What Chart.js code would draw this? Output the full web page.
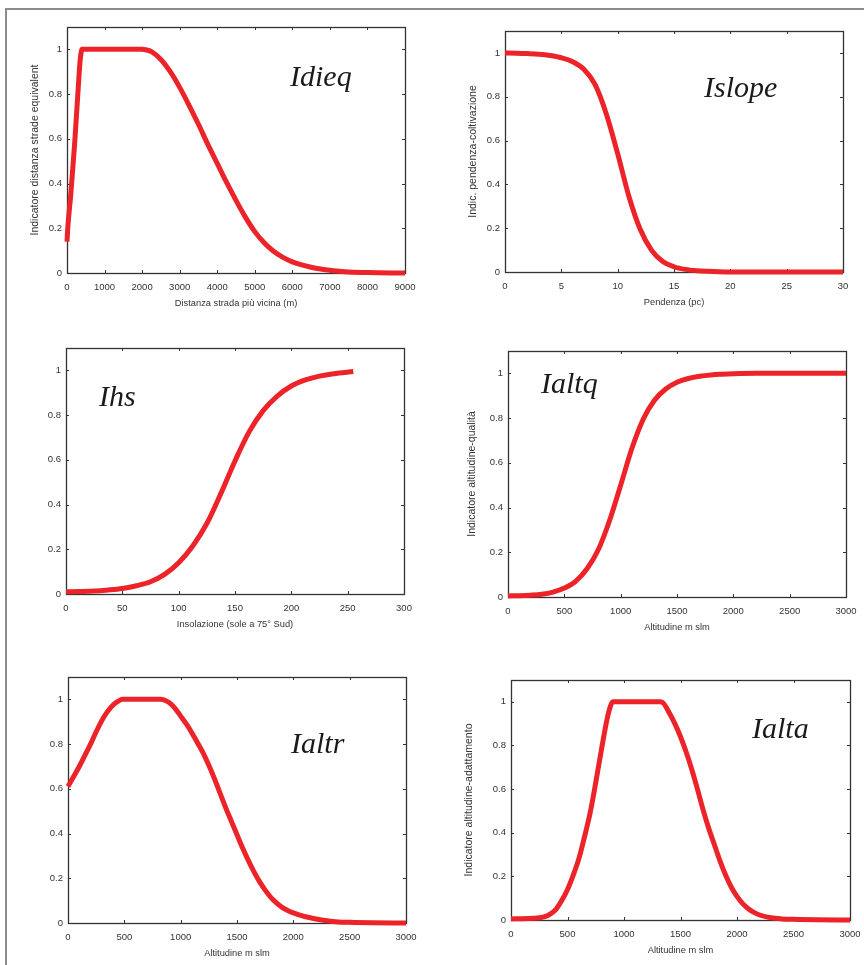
<!DOCTYPE html>
<html>
<head>
<meta charset="utf-8">
<script src="https://cdn.jsdelivr.net/npm/chart.js@4.4.0/dist/chart.umd.min.js"></script>
<style>
  html,body{margin:0;padding:0;background:#fff;}
  #page{position:relative;width:864px;height:965px;overflow:hidden;}
  #frame{position:absolute;left:5px;top:8px;width:900px;height:1000px;border-top:2px solid #8c8c8c;border-left:2px solid #8c8c8c;}
  canvas{position:absolute;}
  .nm{position:absolute;font-family:"Liberation Serif","Times New Roman",serif;font-style:italic;font-size:30px;line-height:30px;color:#1a1a1a;white-space:nowrap;}
</style>
</head>
<body>
<div id="page"><div id="frame"></div></div>
<script>
// valori
const idieqX = [0, 20, 100, 200, 300, 350, 400, 1000, 2000, 2100, 2250, 2500, 2750, 3000, 3250, 3500, 3750, 4000, 4250, 4500, 4750, 5000, 5250, 5500, 5750, 6000, 6250, 6500, 6750, 7000, 7250, 7500, 8000, 9000];
const idieqY = [0.14, 0.2, 0.35, 0.57, 0.83, 0.95, 1, 1, 1, 0.998, 0.99, 0.955, 0.9, 0.83, 0.75, 0.665, 0.575, 0.49, 0.405, 0.325, 0.25, 0.185, 0.135, 0.097, 0.07, 0.05, 0.036, 0.026, 0.018, 0.012, 0.008, 0.005, 0.002, 0];

const islopeX = [0, 1, 2, 3, 4, 5, 6, 7, 8, 9, 10, 11, 12, 13, 14, 15, 16, 17, 18, 19, 20, 30];
const islopeY = [1, 0.999, 0.997, 0.994, 0.988, 0.978, 0.96, 0.925, 0.855, 0.72, 0.54, 0.345, 0.195, 0.1, 0.048, 0.024, 0.012, 0.006, 0.003, 0.001, 0, 0];

const ihsX = [0, 12.5, 25, 37.5, 50, 62.5, 75, 87.5, 100, 112.5, 125, 137.5, 150, 162.5, 175, 187.5, 200, 212.5, 225, 237.5, 255];
const ihsY = [0.01, 0.011, 0.013, 0.018, 0.025, 0.037, 0.055, 0.088, 0.14, 0.215, 0.315, 0.45, 0.595, 0.725, 0.82, 0.885, 0.93, 0.957, 0.974, 0.985, 0.995];

const ialtqX = [0, 100, 200, 300, 400, 500, 600, 700, 800, 900, 1000, 1100, 1200, 1300, 1400, 1500, 1600, 1700, 1800, 1900, 2000, 2200, 3000];
const ialtqY = [0.005, 0.006, 0.008, 0.012, 0.022, 0.04, 0.07, 0.125, 0.21, 0.34, 0.5, 0.665, 0.795, 0.88, 0.93, 0.96, 0.977, 0.987, 0.993, 0.996, 0.998, 1, 1];

const ialtrX = [0, 50, 100, 150, 200, 250, 300, 350, 400, 450, 480, 820, 850, 900, 950, 1000, 1050, 1100, 1150, 1200, 1250, 1300, 1350, 1400, 1450, 1500, 1550, 1600, 1650, 1700, 1750, 1800, 1850, 1900, 1950, 2000, 2050, 2100, 2200, 2300, 2400, 2500, 2700, 3000];
const ialtrY = [0.61, 0.655, 0.7, 0.75, 0.8, 0.855, 0.905, 0.945, 0.975, 0.993, 1, 1, 0.998, 0.985, 0.96, 0.925, 0.89, 0.85, 0.805, 0.76, 0.705, 0.645, 0.58, 0.515, 0.455, 0.395, 0.335, 0.28, 0.23, 0.185, 0.147, 0.115, 0.09, 0.07, 0.056, 0.045, 0.036, 0.029, 0.018, 0.01, 0.005, 0.003, 0.001, 0];

const ialtaX = [0, 100, 200, 250, 300, 350, 400, 450, 500, 550, 600, 650, 700, 750, 800, 850, 880, 900, 1320, 1350, 1400, 1450, 1500, 1550, 1600, 1650, 1700, 1750, 1800, 1850, 1900, 1950, 2000, 2050, 2100, 2150, 2200, 2300, 2400, 2500, 2700, 3000];
const ialtaY = [0.005, 0.006, 0.008, 0.01, 0.015, 0.028, 0.05, 0.09, 0.14, 0.205, 0.28, 0.38, 0.49, 0.63, 0.78, 0.92, 0.98, 1, 1, 0.993, 0.95, 0.9, 0.84, 0.77, 0.69, 0.6, 0.505, 0.42, 0.345, 0.27, 0.205, 0.15, 0.108, 0.075, 0.052, 0.035, 0.023, 0.01, 0.005, 0.003, 0.001, 0];

// tick
const yTicks = [0, 0.2, 0.4, 0.6, 0.8, 1];
const distTicks = [0, 1000, 2000, 3000, 4000, 5000, 6000, 7000, 8000, 9000];
const slopeTicks = [0, 5, 10, 15, 20, 25, 30];
const insolTicks = [0, 50, 100, 150, 200, 250, 300];
const altTicks = [0, 500, 1000, 1500, 2000, 2500, 3000];

const RED = "#ec2329";
const AX = "#333";
const SANS = "'Liberation Sans', Arial, sans-serif";

// box con tacche interne su tutti e quattro i lati (stile matlab)
const boxTicks = {
  id: "boxTicks",
  beforeDatasetsDraw(chart) {
    const {ctx, chartArea: a, scales: {x, y}} = chart;
    ctx.save();
    ctx.strokeStyle = AX;
    ctx.lineWidth = 1;
    ctx.beginPath();
    x.ticks.forEach(t => {
      const px = Math.round(x.getPixelForValue(t.value)) + 0.5;
      ctx.moveTo(px, a.bottom); ctx.lineTo(px, a.bottom - 3);
      ctx.moveTo(px, a.top); ctx.lineTo(px, a.top + 3);
    });
    y.ticks.forEach(t => {
      const py = Math.round(y.getPixelForValue(t.value)) + 0.5;
      ctx.moveTo(a.left, py); ctx.lineTo(a.left + 3, py);
      ctx.moveTo(a.right, py); ctx.lineTo(a.right - 3, py);
    });
    ctx.stroke();
    ctx.lineWidth = 1.3;
    ctx.strokeRect(Math.round(a.left) + 0.5, Math.round(a.top) + 0.5, Math.round(a.right - a.left), Math.round(a.bottom - a.top));
    ctx.restore();
  }
};

const PANELS = [
  {xs: idieqX, ys: idieqY, xmax: 9000, xt: distTicks, name: "Idieq", nx: 290, nb: 86,
   xlab: "Distanza strada più vicina (m)", ylab: "Indicatore distanza strade equivalent",
   L: 67, T: 27, R: 405, B: 273, gap: 32},
  {xs: islopeX, ys: islopeY, xmax: 30, xt: slopeTicks, name: "Islope", nx: 704, nb: 97,
   xlab: "Pendenza (pc)", ylab: "Indic. pendenza-coltivazione",
   L: 505, T: 31, R: 843, B: 272, gap: 32},
  {xs: ihsX, ys: ihsY, xmax: 300, xt: insolTicks, name: "Ihs", nx: 99, nb: 406,
   xlab: "Insolazione (sole a 75° Sud)", ylab: "",
   L: 66, T: 348, R: 404, B: 594, gap: 0},
  {xs: ialtqX, ys: ialtqY, xmax: 3000, xt: altTicks, name: "Ialtq", nx: 541, nb: 393,
   xlab: "Altitudine m slm", ylab: "Indicatore altitudine-qualità",
   L: 508, T: 351, R: 846, B: 597, gap: 36},
  {xs: ialtrX, ys: ialtrY, xmax: 3000, xt: altTicks, name: "Ialtr", nx: 291, nb: 753,
   xlab: "Altitudine m slm", ylab: "",
   L: 68, T: 677, R: 406, B: 923, gap: 0},
  {xs: ialtaX, ys: ialtaY, xmax: 3000, xt: altTicks, name: "Ialta", nx: 752, nb: 738,
   xlab: "Altitudine m slm", ylab: "Indicatore altitudine-adattamento",
   L: 511, T: 680, R: 850, B: 920, gap: 42},
];

const page = document.getElementById("page");
const PT = 12, PR = 14, XH = 40;

// niente padding extra per le etichette di bordo: l'area del grafico resta fissa
const noPad = s => { s.paddingLeft = 0; s.paddingRight = 0; s.paddingTop = 0; s.paddingBottom = 0; };

PANELS.forEach(p => {
  const yW = p.ylab ? p.gap + 8 : 35;
  const cv = document.createElement("canvas");
  const w = (p.R - p.L) + yW + PR, h = (p.B - p.T) + PT + XH;
  cv.width = w; cv.height = h;
  cv.style.left = (p.L - yW) + "px";
  cv.style.top = (p.T - PT) + "px";
  cv.style.width = w + "px"; cv.style.height = h + "px";
  page.appendChild(cv);

  const nm = document.createElement("div");
  nm.className = "nm";
  nm.textContent = p.name;
  nm.style.left = p.nx + "px";
  nm.style.top = (p.nb - 25) + "px";
  page.appendChild(nm);

  new Chart(cv, {
    type: "line",
    data: {
      datasets: [{
        data: p.xs.map((x, i) => ({x, y: p.ys[i]})),
        borderColor: RED,
        borderWidth: 5,
        pointRadius: 0,
        cubicInterpolationMode: "monotone",
        clip: false,
        borderCapStyle: "butt",
      }]
    },
    options: {
      responsive: false,
      animation: false,
      devicePixelRatio: 1,
      layout: {padding: {top: PT, right: PR, left: 0, bottom: 0}},
      plugins: {legend: {display: false}, tooltip: {enabled: false}},
      scales: {
        x: {
          type: "linear", min: 0, max: p.xmax,
          afterBuildTicks: s => { s.ticks = p.xt.map(v => ({value: v})); },
          afterFit: s => { s.height = XH; noPad(s); },
          grid: {display: false, drawTicks: false},
          border: {display: false},
          ticks: {color: AX, padding: 9, maxRotation: 0, autoSkip: false,
                  font: {family: SANS, size: 9.5}, callback: v => String(v)},
          title: {display: true, text: p.xlab, color: AX,
                  font: {family: SANS, size: 9.3}, padding: {top: 0, bottom: 4}},
        },
        y: {
          type: "linear", min: 0, max: 1.1,
          afterBuildTicks: s => { s.ticks = yTicks.map(v => ({value: v})); },
          afterFit: s => { s.width = yW; noPad(s); },
          grid: {display: false, drawTicks: false},
          border: {display: false},
          ticks: {color: AX, padding: 5, font: {family: SANS, size: 9.5},
                  callback: v => String(Number(v.toFixed(1)))},
          title: {display: !!p.ylab, text: p.ylab, color: AX,
                  font: {family: SANS, size: 10.5}, padding: {top: 2, bottom: 0}},
        }
      }
    },
    plugins: [boxTicks]
  });
});
</script>
</body>
</html>
